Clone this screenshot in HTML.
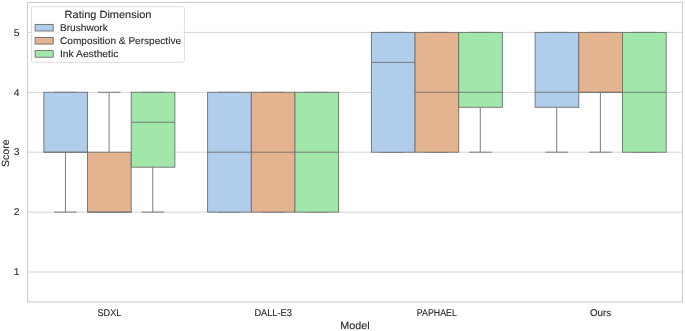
<!DOCTYPE html>
<html><head><meta charset="utf-8"><style>
html,body{margin:0;padding:0;background:#fff;}
body{width:685px;height:331px;overflow:hidden;}
svg{display:block;will-change:transform;}
text{font-family:"Liberation Sans", sans-serif;fill:#262626;stroke:#262626;stroke-width:0.1px;text-rendering:geometricPrecision;}
</style></head><body>
<svg width="685" height="331" viewBox="0 0 685 331">
<rect x="0" y="0" width="685" height="331" fill="#ffffff"/>
<line x1="27.5" x2="682.5" y1="272.00" y2="272.00" stroke="#cccccc" stroke-width="0.85"/>
<line x1="27.5" x2="682.5" y1="212.10" y2="212.10" stroke="#cccccc" stroke-width="0.85"/>
<line x1="27.5" x2="682.5" y1="152.20" y2="152.20" stroke="#cccccc" stroke-width="0.85"/>
<line x1="27.5" x2="682.5" y1="92.30" y2="92.30" stroke="#cccccc" stroke-width="0.85"/>
<line x1="27.5" x2="682.5" y1="32.40" y2="32.40" stroke="#cccccc" stroke-width="0.85"/>
<line x1="65.46" x2="65.46" y1="152.20" y2="212.10" stroke="#6f6f6f" stroke-width="0.9"/>
<line x1="54.21" x2="76.71" y1="212.10" y2="212.10" stroke="#6f6f6f" stroke-width="0.9"/>
<line x1="54.21" x2="76.71" y1="92.30" y2="92.30" stroke="#6f6f6f" stroke-width="0.9"/>
<rect x="43.88" y="92.30" width="43.67" height="59.90" fill="#b0ceeb" stroke="#6f6f6f" stroke-width="0.9"/>
<line x1="43.88" x2="87.54" y1="152.20" y2="152.20" stroke="#6f6f6f" stroke-width="0.9"/>
<line x1="109.12" x2="109.12" y1="152.20" y2="92.30" stroke="#6f6f6f" stroke-width="0.9"/>
<line x1="97.87" x2="120.37" y1="212.10" y2="212.10" stroke="#6f6f6f" stroke-width="0.9"/>
<line x1="97.87" x2="120.37" y1="92.30" y2="92.30" stroke="#6f6f6f" stroke-width="0.9"/>
<rect x="87.54" y="152.20" width="43.67" height="59.90" fill="#e4b38f" stroke="#6f6f6f" stroke-width="0.9"/>
<line x1="87.54" x2="131.21" y1="212.10" y2="212.10" stroke="#6f6f6f" stroke-width="0.9"/>
<line x1="152.79" x2="152.79" y1="167.18" y2="212.10" stroke="#6f6f6f" stroke-width="0.9"/>
<line x1="141.54" x2="164.04" y1="212.10" y2="212.10" stroke="#6f6f6f" stroke-width="0.9"/>
<line x1="141.54" x2="164.04" y1="92.30" y2="92.30" stroke="#6f6f6f" stroke-width="0.9"/>
<rect x="131.21" y="92.30" width="43.67" height="74.88" fill="#a2e7aa" stroke="#6f6f6f" stroke-width="0.9"/>
<line x1="131.21" x2="174.87" y1="122.25" y2="122.25" stroke="#6f6f6f" stroke-width="0.9"/>
<line x1="217.96" x2="240.46" y1="212.10" y2="212.10" stroke="#6f6f6f" stroke-width="0.9"/>
<line x1="217.96" x2="240.46" y1="92.30" y2="92.30" stroke="#6f6f6f" stroke-width="0.9"/>
<rect x="207.62" y="92.30" width="43.67" height="119.80" fill="#b0ceeb" stroke="#6f6f6f" stroke-width="0.9"/>
<line x1="207.62" x2="251.29" y1="152.20" y2="152.20" stroke="#6f6f6f" stroke-width="0.9"/>
<line x1="261.62" x2="284.12" y1="212.10" y2="212.10" stroke="#6f6f6f" stroke-width="0.9"/>
<line x1="261.62" x2="284.12" y1="92.30" y2="92.30" stroke="#6f6f6f" stroke-width="0.9"/>
<rect x="251.29" y="92.30" width="43.67" height="119.80" fill="#e4b38f" stroke="#6f6f6f" stroke-width="0.9"/>
<line x1="251.29" x2="294.96" y1="152.20" y2="152.20" stroke="#6f6f6f" stroke-width="0.9"/>
<line x1="305.29" x2="327.79" y1="212.10" y2="212.10" stroke="#6f6f6f" stroke-width="0.9"/>
<line x1="305.29" x2="327.79" y1="92.30" y2="92.30" stroke="#6f6f6f" stroke-width="0.9"/>
<rect x="294.96" y="92.30" width="43.67" height="119.80" fill="#a2e7aa" stroke="#6f6f6f" stroke-width="0.9"/>
<line x1="294.96" x2="338.62" y1="152.20" y2="152.20" stroke="#6f6f6f" stroke-width="0.9"/>
<line x1="381.71" x2="404.21" y1="152.20" y2="152.20" stroke="#6f6f6f" stroke-width="0.9"/>
<line x1="381.71" x2="404.21" y1="32.40" y2="32.40" stroke="#6f6f6f" stroke-width="0.9"/>
<rect x="371.38" y="32.40" width="43.67" height="119.80" fill="#b0ceeb" stroke="#6f6f6f" stroke-width="0.9"/>
<line x1="371.38" x2="415.04" y1="62.35" y2="62.35" stroke="#6f6f6f" stroke-width="0.9"/>
<line x1="425.38" x2="447.88" y1="152.20" y2="152.20" stroke="#6f6f6f" stroke-width="0.9"/>
<line x1="425.38" x2="447.88" y1="32.40" y2="32.40" stroke="#6f6f6f" stroke-width="0.9"/>
<rect x="415.04" y="32.40" width="43.67" height="119.80" fill="#e4b38f" stroke="#6f6f6f" stroke-width="0.9"/>
<line x1="415.04" x2="458.71" y1="92.30" y2="92.30" stroke="#6f6f6f" stroke-width="0.9"/>
<line x1="480.29" x2="480.29" y1="107.28" y2="152.20" stroke="#6f6f6f" stroke-width="0.9"/>
<line x1="469.04" x2="491.54" y1="152.20" y2="152.20" stroke="#6f6f6f" stroke-width="0.9"/>
<line x1="469.04" x2="491.54" y1="32.40" y2="32.40" stroke="#6f6f6f" stroke-width="0.9"/>
<rect x="458.71" y="32.40" width="43.67" height="74.88" fill="#a2e7aa" stroke="#6f6f6f" stroke-width="0.9"/>
<line x1="458.71" x2="502.38" y1="92.30" y2="92.30" stroke="#6f6f6f" stroke-width="0.9"/>
<line x1="556.71" x2="556.71" y1="107.28" y2="152.20" stroke="#6f6f6f" stroke-width="0.9"/>
<line x1="545.46" x2="567.96" y1="152.20" y2="152.20" stroke="#6f6f6f" stroke-width="0.9"/>
<line x1="545.46" x2="567.96" y1="32.40" y2="32.40" stroke="#6f6f6f" stroke-width="0.9"/>
<rect x="535.12" y="32.40" width="43.67" height="74.88" fill="#b0ceeb" stroke="#6f6f6f" stroke-width="0.9"/>
<line x1="535.12" x2="578.79" y1="92.30" y2="92.30" stroke="#6f6f6f" stroke-width="0.9"/>
<line x1="600.38" x2="600.38" y1="92.30" y2="152.20" stroke="#6f6f6f" stroke-width="0.9"/>
<line x1="589.12" x2="611.62" y1="152.20" y2="152.20" stroke="#6f6f6f" stroke-width="0.9"/>
<line x1="589.12" x2="611.62" y1="32.40" y2="32.40" stroke="#6f6f6f" stroke-width="0.9"/>
<rect x="578.79" y="32.40" width="43.67" height="59.90" fill="#e4b38f" stroke="#6f6f6f" stroke-width="0.9"/>
<line x1="578.79" x2="622.46" y1="92.30" y2="92.30" stroke="#6f6f6f" stroke-width="0.9"/>
<line x1="632.79" x2="655.29" y1="152.20" y2="152.20" stroke="#6f6f6f" stroke-width="0.9"/>
<line x1="632.79" x2="655.29" y1="32.40" y2="32.40" stroke="#6f6f6f" stroke-width="0.9"/>
<rect x="622.46" y="32.40" width="43.67" height="119.80" fill="#a2e7aa" stroke="#6f6f6f" stroke-width="0.9"/>
<line x1="622.46" x2="666.12" y1="92.30" y2="92.30" stroke="#6f6f6f" stroke-width="0.9"/>
<rect x="27.5" y="2.4" width="655.0" height="299.5" fill="none" stroke="#cccccc" stroke-width="1.05"/>
<text x="19.4" y="275" text-anchor="end" font-size="9.8" style="stroke-width:0.08px" textLength="5.73" lengthAdjust="spacingAndGlyphs">1</text>
<text x="19.4" y="215" text-anchor="end" font-size="9.8" style="stroke-width:0.08px" textLength="5.73" lengthAdjust="spacingAndGlyphs">2</text>
<text x="19.4" y="155" text-anchor="end" font-size="9.8" style="stroke-width:0.08px" textLength="5.73" lengthAdjust="spacingAndGlyphs">3</text>
<text x="19.4" y="96" text-anchor="end" font-size="9.8" style="stroke-width:0.08px" textLength="5.73" lengthAdjust="spacingAndGlyphs">4</text>
<text x="19.4" y="36" text-anchor="end" font-size="9.8" style="stroke-width:0.08px" textLength="5.73" lengthAdjust="spacingAndGlyphs">5</text>
<text x="109.38" y="316.4" text-anchor="middle" font-size="9.8" textLength="23.82" lengthAdjust="spacingAndGlyphs">SDXL</text>
<text x="273.12" y="316.4" text-anchor="middle" font-size="9.8" textLength="37.46" lengthAdjust="spacingAndGlyphs">DALL-E3</text>
<text x="436.88" y="316.4" text-anchor="middle" font-size="9.8" textLength="40.06" lengthAdjust="spacingAndGlyphs">PAPHAEL</text>
<text x="600.62" y="316.4" text-anchor="middle" font-size="9.8" textLength="21.18" lengthAdjust="spacingAndGlyphs">Ours</text>
<text x="355" y="329.1" text-anchor="middle" font-size="10.4" textLength="29.42" lengthAdjust="spacingAndGlyphs">Model</text>
<text transform="translate(9.2 153.2) rotate(-90)" x="0" y="0" text-anchor="middle" font-size="10.4" textLength="27.45" lengthAdjust="spacingAndGlyphs">Score</text>
<rect x="31.5" y="6.7" width="152.9" height="55.6" rx="1.8" fill="#ffffff" fill-opacity="0.8" stroke="#cccccc" stroke-opacity="0.8" stroke-width="0.85"/>
<text x="108" y="17.6" text-anchor="middle" font-size="10.4" textLength="86.80" lengthAdjust="spacingAndGlyphs">Rating Dimension</text>
<rect x="35.1" y="24.40" width="18.1" height="6.6" fill="#b0ceeb" stroke="#6f6f6f" stroke-width="0.9"/>
<text x="60.0" y="30.6" font-size="9.8" textLength="47.75" lengthAdjust="spacingAndGlyphs">Brushwork</text>
<rect x="35.1" y="37.50" width="18.1" height="6.6" fill="#e4b38f" stroke="#6f6f6f" stroke-width="0.9"/>
<text x="60.0" y="43.8" font-size="9.8" textLength="121.07" lengthAdjust="spacingAndGlyphs">Composition &amp; Perspective</text>
<rect x="35.1" y="50.60" width="18.1" height="6.6" fill="#a2e7aa" stroke="#6f6f6f" stroke-width="0.9"/>
<text x="60.0" y="57.0" font-size="9.8" textLength="58.40" lengthAdjust="spacingAndGlyphs">Ink Aesthetic</text>
</svg>
</body></html>
